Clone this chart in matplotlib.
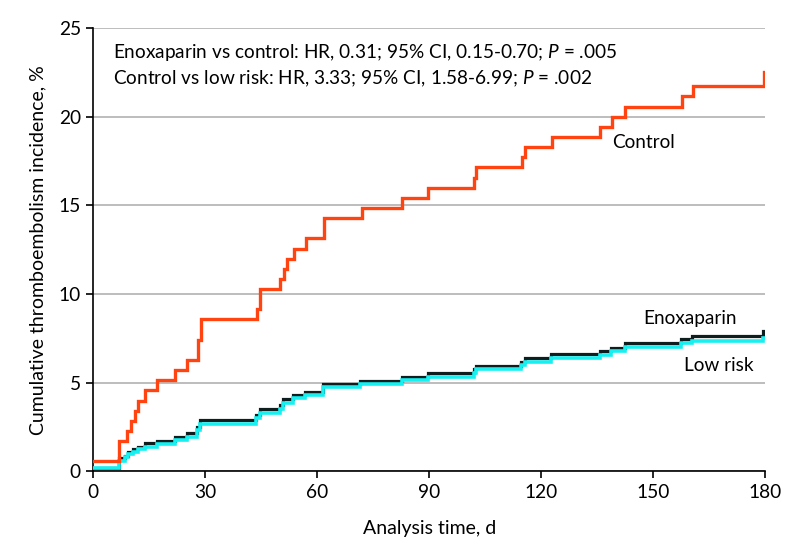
import matplotlib
matplotlib.use("Agg")
import matplotlib.pyplot as plt
from matplotlib import font_manager

# ---- data ----
control_t = [0, 7, 8.9, 10, 11.1, 12, 13.9, 17, 22, 25, 28, 28.9, 43.8, 44.8, 49.9, 51, 51.9,
             53.9, 56.9, 61.8, 71.9, 82.8, 89.8, 102, 102.6, 114.8, 115.7, 122.8, 135.7, 138.9,
             142.6, 157.7, 160.7, 179.6]
control_y = [0.57, 1.71, 2.29, 2.86, 3.43, 4.0, 4.57, 5.14, 5.71, 6.29, 7.43, 8.57, 9.14, 10.29,
             10.86, 11.43, 12.0, 12.57, 13.14, 14.29, 14.86, 15.43, 16.0, 16.57, 17.14, 17.71,
             18.29, 18.86, 19.43, 20.0, 20.57, 21.14, 21.71, 22.5]
enox_t = [0, 7, 8.5, 9.4, 10.7, 12, 13.8, 17, 21.8, 25, 27.8, 28.7, 43.7, 44.6, 49.9, 50.8,
          53.6, 56.6, 61.5, 71.6, 82.7, 89.6, 101.9, 102.5, 114.7, 115.6, 122.6, 135.7, 138.6,
          142.4, 157.6, 160.4, 179.4]
enox_y = [0.2, 0.75, 0.9, 1.1, 1.26, 1.4, 1.58, 1.73, 1.92, 2.15, 2.52, 2.9, 3.18, 3.5, 3.74,
          4.07, 4.31, 4.5, 4.93, 5.12, 5.34, 5.53, 5.78, 5.96, 6.19, 6.38, 6.6, 6.79, 6.98, 7.22,
          7.45, 7.65, 7.94]
low_t = enox_t
low_y = [0.2, 0.6, 0.8, 0.98, 1.1, 1.25, 1.4, 1.55, 1.75, 1.97, 2.35, 2.7, 3.0, 3.31, 3.55,
         3.88, 4.12, 4.32, 4.75, 4.93, 5.15, 5.34, 5.58, 5.76, 6.0, 6.18, 6.4, 6.58, 6.78, 7.02,
         7.25, 7.37, 7.5]
t_end = 180
xticks = [0, 30, 60, 90, 120, 150, 180]
yticks = [0, 5, 10, 15, 20, 25]
line1 = "Enoxaparin vs control: HR, 0.31; 95% CI, 0.15-0.70; $\\mathit{P}$ = .005"
line2 = "Control vs low risk: HR, 3.33; 95% CI, 1.58-6.99; $\\mathit{P}$ = .002"

names = {f.name for f in font_manager.fontManager.ttflist}
main_font = "Lato" if "Lato" in names else "DejaVu Sans"
narrow = "Liberation Sans Narrow" if "Liberation Sans Narrow" in names else main_font

plt.rcParams['font.family'] = [main_font, 'DejaVu Sans']
plt.rcParams['mathtext.fontset'] = 'custom'
plt.rcParams['mathtext.rm'] = main_font
plt.rcParams['mathtext.it'] = main_font + ':italic'

fig = plt.figure(figsize=(7.94, 5.56), dpi=100)
ax = fig.add_axes([0.1175, 0.152, 0.846, 0.7976])

def ext(t, y):
    return list(t) + [t_end], list(y) + [y[-1]]

ax.step(*ext(enox_t, enox_y), where='post', color='#0e1d1d', lw=2.3, zorder=2,
        solid_joinstyle='miter')
ax.step(*ext(low_t, low_y), where='post', color='#17f0f0', lw=2.6, zorder=3,
        solid_joinstyle='miter')
ax.step(*ext(control_t, control_y), where='post', color='#ff4411', lw=2.4, zorder=4,
        solid_joinstyle='miter')

ax.set_xlim(0, 180)
ax.set_ylim(0, 25)
ax.set_xticks(xticks)
ax.set_yticks(yticks)
ax.yaxis.grid(True, color='#bdbdbd', lw=1.4)
ax.set_axisbelow(True)
for s in ['top', 'right']:
    ax.spines[s].set_visible(False)
for s in ['left', 'bottom']:
    ax.spines[s].set_linewidth(1.2)
ax.tick_params(direction='out', length=5, width=1.2, labelsize=13.8, pad=4)
for lab in ax.get_xticklabels() + ax.get_yticklabels():
    lab.set_family([narrow, 'DejaVu Sans'])

ax.set_xlabel("Analysis time, d", fontsize=14, family=[narrow, 'DejaVu Sans'], labelpad=14)
ax.set_ylabel("Cumulative thromboembolism incidence, %", fontsize=14,
              family=[narrow, 'DejaVu Sans'], labelpad=9)

ax.text(5.2, 23.6, line1, fontsize=13.7, va='center', ha='left')
ax.text(5.2, 22.15, line2, fontsize=13.7, va='center', ha='left')
ax.text(139, 18.55, "Control", fontsize=13.7, va='center', ha='left')
ax.text(147.5, 8.65, "Enoxaparin", fontsize=13.7, va='center', ha='left')
ax.text(158.3, 6.0, "Low risk", fontsize=13.7, va='center', ha='left')

fig.savefig("out.png", dpi=100)
